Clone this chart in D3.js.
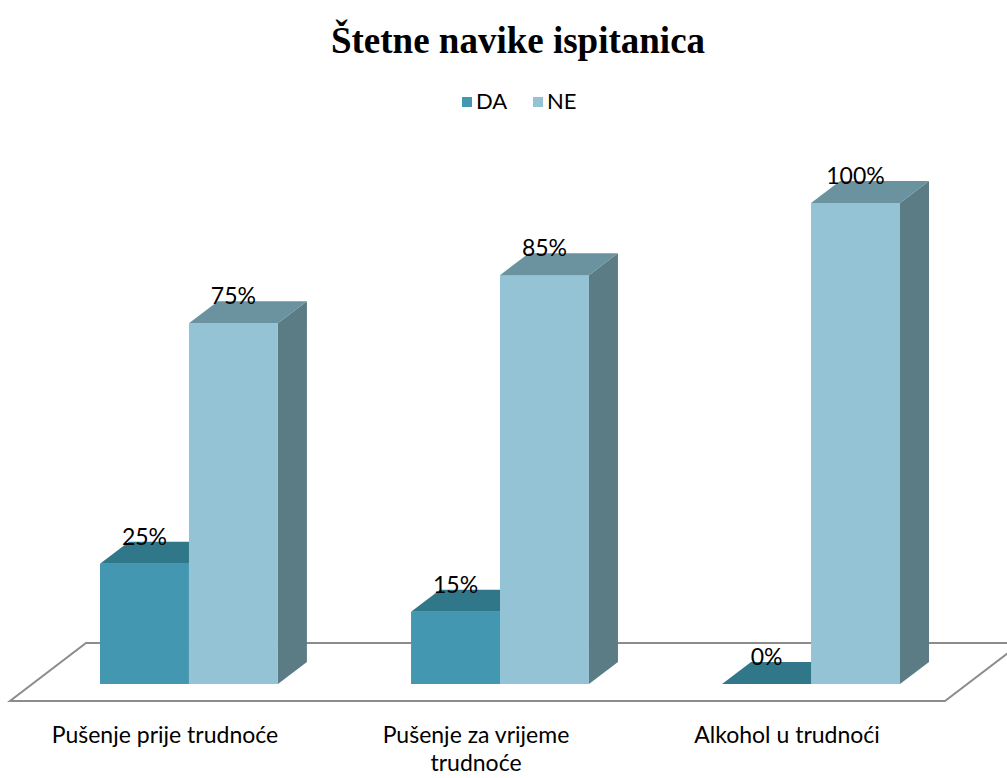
<!DOCTYPE html>
<html lang="hr">
  <head>
    <meta charset="UTF-8" />
    <title>Štetne navike ispitanica</title>
    <script src="https://d3js.org/d3.v7.min.js"></script>
    <style>
      body { margin: 0; background: #fff; }
    </style>
  </head>
  <body>
    <svg id="chart" width="1007" height="778"></svg>
    <script>
      // Data
      const categories = ['Pušenje prije trudnoće', 'Pušenje za vrijeme trudnoće', 'Alkohol u trudnoći']
      const seriesNames = ['DA', 'NE']
      const valuesDA = [25, 15, 0]
      const valuesNE = [75, 85, 100]

      const svg = d3.select('#chart')

      // colours: front, top, side
      const colors = {
        DA: { front: '#4397b0', top: '#30778a', side: '#2a6677' },
        NE: { front: '#93c3d5', top: '#6b929f', side: '#5b7b85' }
      }
      const depth = { dx: 29, dy: -22 }

      const x0 = d3.scaleBand().domain(categories).range([100, 900]).paddingInner(0.428).paddingOuter(0)
      const x1 = d3.scaleBand().domain(seriesNames).range([0, x0.bandwidth()])
      const y = d3.scaleLinear().domain([0, 100]).range([684, 203])

      // Title
      svg.append('text')
        .attr('x', 518).attr('y', 53)
        .attr('text-anchor', 'middle')
        .style('font-family', '"Liberation Serif", "Times New Roman", serif')
        .style('font-weight', 'bold')
        .style('font-size', '37px')
        .text('Štetne navike ispitanica')

      // Legend
      const legend = svg.append('g').attr('transform', 'translate(462,97)')
      const legendX = [0, 71]
      seriesNames.forEach((s, i) => {
        const g = legend.append('g').attr('transform', `translate(${legendX[i]},0)`)
        g.append('rect').attr('width', 10).attr('height', 10).attr('fill', colors[s].front)
        g.append('text').attr('x', 14).attr('y', 12)
          .style('font-family', 'Lato, sans-serif').style('font-size', '22px')
          .text(s)
      })

      // Floor
      const floor = [[10, 701], [945, 701], [1021, 643], [86, 643]]
      svg.append('path')
        .attr('d', d3.line()(floor) + 'Z')
        .attr('fill', '#fff')
        .attr('stroke', '#8c8c8c')
        .attr('stroke-width', 2)

      // Bars
      const rows = categories.map((c, i) => ({ cat: c, vals: [valuesDA[i], valuesNE[i]] }))
      const groups = svg.selectAll('g.group').data(rows).join('g').attr('class', 'group')
        .attr('transform', d => `translate(${x0(d.cat)},0)`)

      seriesNames.forEach((s, si) => {
        groups.each(function (d) {
          const g = d3.select(this)
          const v = d.vals[si]
          const xl = x1(s), xr = xl + x1.bandwidth()
          const yt = y(v), yb = y(0)
          const { dx, dy } = depth
          const c = colors[s]
          // side
          g.append('path')
            .attr('d', `M${xr},${yb}L${xr + dx},${yb + dy}L${xr + dx},${yt + dy}L${xr},${yt}Z`)
            .attr('fill', c.side)
          // front
          if (v > 0) {
            g.append('rect').attr('x', xl).attr('y', yt).attr('width', xr - xl).attr('height', yb - yt)
              .attr('fill', c.front)
          }
          // top
          g.append('path')
            .attr('d', `M${xl},${yt}L${xr},${yt}L${xr + dx},${yt + dy}L${xl + dx},${yt + dy}Z`)
            .attr('fill', c.top)
          // value label
          g.append('text')
            .attr('x', (xl + xr) / 2).attr('y', yt + dy + 3)
            .attr('text-anchor', 'middle')
            .style('font-family', 'Lato, sans-serif').style('font-size', '23px')
            .text(v + '%')
        })
      })

      // Category labels
      const labels = svg.selectAll('text.cat').data(categories).join('text')
        .attr('class', 'cat')
        .attr('x', d => x0(d) + x0.bandwidth() / 2 - 24)
        .attr('y', 743)
        .attr('text-anchor', 'middle')
        .style('font-family', 'Lato, sans-serif').style('font-size', '23px')
        .text(d => d)

      // wrap long labels
      labels.each(function () {
        const t = d3.select(this)
        const words = t.text().split(' ')
        const xPos = t.attr('x')
        t.text(null)
        let line = []
        let tspan = t.append('tspan').attr('x', xPos).attr('dy', 0)
        words.forEach(w => {
          line.push(w)
          tspan.text(line.join(' '))
          if (tspan.node().getComputedTextLength() > 255 && line.length > 1) {
            line.pop()
            tspan.text(line.join(' '))
            line = [w]
            tspan = t.append('tspan').attr('x', xPos).attr('dy', 28).text(w)
          }
        })
      })
    </script>
  </body>
</html>
